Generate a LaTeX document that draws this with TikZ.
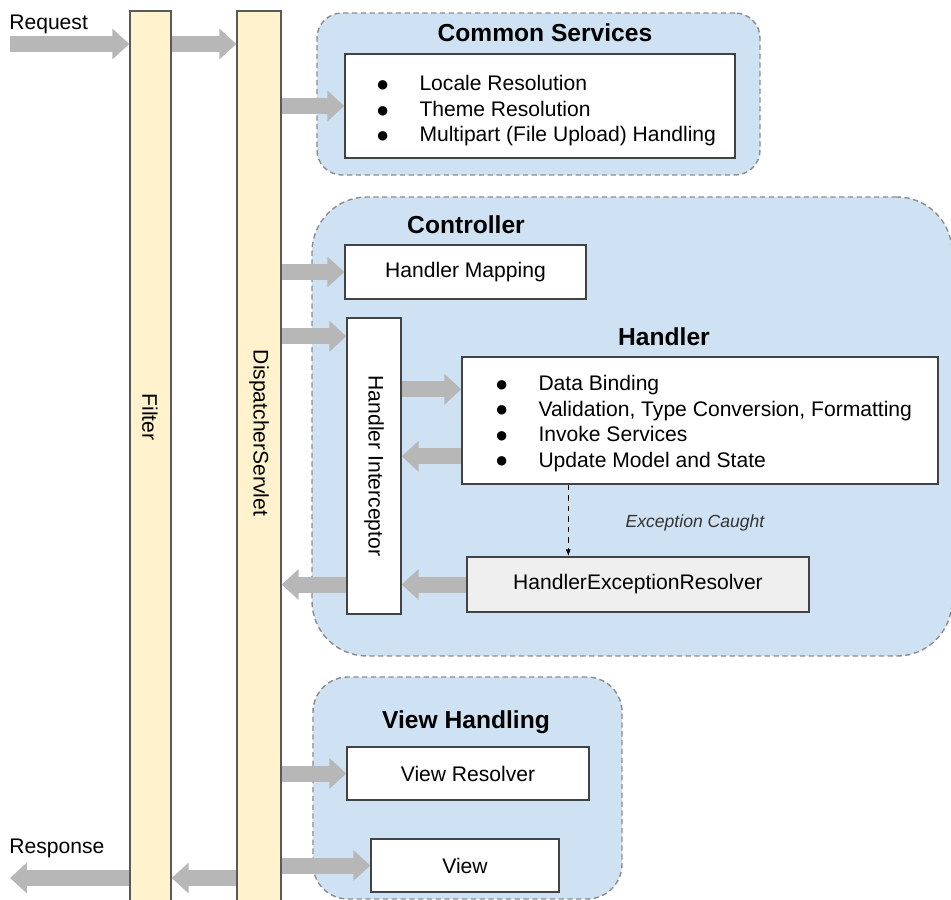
\documentclass[tikz,border=0pt]{standalone}
\usepackage{fontspec}
\setmainfont{Liberation Sans}
\newfontfamily\dejavu{DejaVu Sans}
\usetikzlibrary{arrows.meta,fit,calc}

\definecolor{barfill}{HTML}{FFF2CC}
\definecolor{barline}{HTML}{595959}
\definecolor{grpfill}{HTML}{CFE2F3}
\definecolor{grpline}{HTML}{8C8C8C}
\definecolor{boxline}{HTML}{434343}
\definecolor{herfill}{HTML}{EFEFEF}
\definecolor{fatgray}{HTML}{B7B7B7}
\definecolor{excgray}{HTML}{333333}

\newcommand{\itm}[1]{\makebox[24pt][l]{\raisebox{1.3pt}{\fontsize{7}{7}\dejavu ●}}#1}

\begin{document}
\begin{tikzpicture}[x=0.02cm,y=-0.02cm,
    bar/.style={draw=barline,fill=barfill,line width=0.8pt,inner sep=0pt},
    grp/.style={draw=grpline,fill=grpfill,line width=0.8pt,dash pattern=on 3pt off 2pt,inner sep=0pt},
    box/.style={draw=boxline,fill=white,line width=0.8pt,inner sep=0pt},
    fat/.style={draw=fatgray,line width=0.32cm,-{Triangle[length=0.34cm,width=0.6cm]}},
    grptitle/.style={font=\fontsize{14}{16}\selectfont\bfseries},
    txt/.style={font=\fontsize{12}{14.5}\selectfont}]

    % Canvas
    \clip (0,0) rectangle (951,900);

    % Groups
    \node[grp, rounded corners=0.5cm, fit={(317,13) (760,175)}] (csgrp) {};
    \node[grp, rounded corners=1.1cm, fit={(312,197) (952,656)}] (ctrlgrp) {};
    \node[grp, rounded corners=0.7cm, fit={(313,677) (622,899)}] (vhgrp) {};

    \node[grptitle] (cstitle) at (545,33) {Common Services};
    \node[grptitle] (ctrltitle) at (466,225) {Controller};
    \node[grptitle] (hdltitle) at (664,337) {Handler};
    \node[grptitle] (vhtitle) at (466,722) {View Handling};

    % Filter and DispatcherServlet
    \node[bar, fit={(130,11) (171,920)}] (filter) {};
    \node[bar, fit={(237,11) (281,920)}] (ds) {};
    \node[txt, rotate=-90] (filtertxt) at (150,417) {Filter};
    \node[txt, rotate=-90] (dstxt) at (259,433) {DispatcherServlet};

    % Boxes
    \node[box, fit={(345,54) (735,158)}] (cs) {};
    \node[txt, anchor=west, align=left, inner sep=0pt] (cslist) at (377,111)
      {\itm{Locale Resolution}\\ \itm{Theme Resolution}\\ \itm{Multipart (File Upload) Handling}};

    \node[box, fit={(345,245) (586,299)}] (hm) {};
    \node[txt] (hmtxt) at (hm) {Handler Mapping};
    \node[box, fit={(347,318) (401,614)}] (hi) {};
    \node[txt, rotate=-90] (hitxt) at (hi) {Handler Interceptor};

    \node[box, fit={(462,357) (938,484)}] (hdl) {};
    \node[txt, anchor=west, align=left, inner sep=0pt] (hdllist) at (496,423.5)
      {\itm{Data Binding}\\ \itm{Validation, Type Conversion, Formatting}\\
       \itm{Invoke Services}\\ \itm{Update Model and State}};

    \node[box, fill=herfill, fit={(467,557) (809,612)}] (her) {};
    \node[txt] (hertxt) at (her) {HandlerExceptionResolver};
    \node[font=\fontsize{10}{12}\selectfont\itshape, text=excgray] (exc) at (695,523) {Exception Caught};

    \node[box, fit={(347,747) (589,800)}] (vr) {};
    \node[txt] (vrtxt) at (vr) {View Resolver};
    \node[box, fit={(371,839) (559,892)}] (view) {};
    \node[txt] (viewtxt) at (view) {View};

    % Request and Response
    \coordinate (req) at (10,44);
    \coordinate (resp) at (10,878);
    \node[txt, anchor=west, inner sep=0pt] (reqtxt) at (9,24) {Request};
    \node[txt, anchor=west, inner sep=0pt] (resptxt) at (9,848) {Response};

    % Arrows
    \draw[fat] (req) -- (req -| filter.west);
    \draw[fat] (req -| filter.east) -- (req -| ds.west);
    \draw[fat] (cs.west -| ds.east) -- (cs.west);
    \draw[fat] (hm.west -| ds.east) -- (hm.west);

    \coordinate (hiin) at ($(hi.north west)+(0,19)$);
    \draw[fat] (hiin -| ds.east) -- (hiin);
    \coordinate (hdlin) at ($(hdl.north west)+(0,33)$);
    \draw[fat] (hdlin -| hi.east) -- (hdlin);
    \coordinate (hdlout) at ($(hdl.north west)+(0,100)$);
    \draw[fat] (hdlout) -- (hdlout -| hi.east);
    \draw[fat] (her.west) -- (her.west -| hi.east);
    \draw[fat] (her.west -| hi.west) -- (her.west -| ds.east);

    \draw[fat] (vr.west -| ds.east) -- (vr.west);
    \draw[fat] (view.west -| ds.east) -- (view.west);
    \draw[fat] (resp -| ds.west) -- (resp -| filter.east);
    \draw[fat] (resp -| filter.west) -- (resp);

    % Exception path
    \coordinate (exctop) at ($(hdl.south west)+(107,0)$);
    \draw[line width=0.8pt, dashed, -{Latex[length=4pt,width=3pt]}] (exctop) -- (exctop |- her.north);
\end{tikzpicture}
\end{document}
